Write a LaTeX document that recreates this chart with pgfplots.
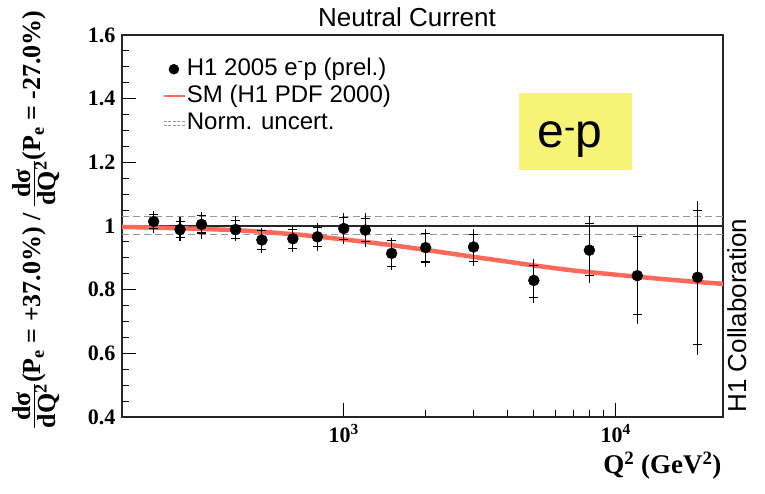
\documentclass[border=0pt]{standalone}
\usepackage{pgfplots}
\pgfplotsset{compat=1.18}
\usepackage{pgfplotstable}
\usepackage{fontspec}
\setmainfont{Liberation Sans}
\newfontfamily\tnr{Liberation Serif}
\definecolor{smred}{RGB}{255,105,90}
\definecolor{boxyellow}{RGB}{246,243,118}
\definecolor{dgray}{RGB}{150,150,150}

\pgfplotstableread{
q r tup tdn sup sdn
200 1.014 0.033 0.037 0.022 0.022
250 0.989 0.040 0.036 0.025 0.025
300 1.005 0.039 0.045 0.027 0.027
400 0.989 0.043 0.036 0.027 0.027
500 0.956 0.039 0.042 0.030 0.030
650 0.960 0.040 0.042 0.030 0.030
800 0.966 0.042 0.046 0.030 0.030
1000 0.992 0.048 0.047 0.035 0.035
1200 0.987 0.053 0.053 0.036 0.036
1500 0.914 0.049 0.053 0.040 0.040
2000 0.932 0.058 0.060 0.045 0.045
3000 0.934 0.055 0.059 0.040 0.045
5000 0.829 0.066 0.071 0.047 0.053
8000 0.924 0.106 0.103 0.084 0.080
12000 0.844 0.158 0.151 0.124 0.123
20000 0.839 0.240 0.244 0.211 0.212
}\data

\pgfplotstableread{
q r
150 0.997
200 0.995
300 0.991
400 0.987
500 0.982
700 0.972
1000 0.958
1500 0.940
2000 0.925
3000 0.903
4000 0.888
5000 0.876
7000 0.860
10000 0.847
15000 0.833
20000 0.824
25000 0.818
}\sm

\newcommand\fr{\ensuremath{\dfrac{\hbox{\tnr\bfseries d\textsigma}}{\hbox{\tnr\bfseries dQ\textsuperscript{2}}}}}
\providecommand\textsigma{σ}
\providecommand\dfrac{\frac}

\begin{document}
\begin{tikzpicture}[x=1pt,y=1pt]
\useasboundingbox (0,0) rectangle (765,494);
\fill[boxyellow] (519,324) rectangle (632,401);
\node[font=\fontsize{48}{48}\selectfont, anchor=base] at (570,346) {e\textsuperscript{-}p};
\begin{axis}[
  at={(122pt,77pt)}, anchor=south west,
  scale only axis, width=601pt, height=382pt,
  xmode=log, xmin=153, xmax=24800, ymin=0.4, ymax=1.6,
  axis line style={line width=1.2pt, black!85},
  tick align=inside, xtick pos=bottom, ytick pos=left,
  major tick length=14pt, minor tick length=7pt,
  every tick/.style={black, line width=1pt},
  ytick={0.4,0.6,...,1.6}, minor y tick num=3,
  xtick={1000,10000},
  xticklabels={10\textsuperscript{3},10\textsuperscript{4}},
  /pgf/number format/assume math mode=true,
  yticklabel style={font=\tnr\bfseries\fontsize{22}{22}\selectfont, xshift=-3pt},
  xticklabel style={font=\tnr\bfseries\fontsize{22}{22}\selectfont, yshift=-4pt},
  legend style={draw=none, fill=none, at={(axis description cs:0.0677,0.945)}, anchor=north west,
     font=\fontsize{24}{26}\selectfont, inner sep=0pt, row sep=1pt,
     nodes={inner sep=1pt, text height=18pt, text depth=6pt}},
  legend cell align=left,
]
\addlegendimage{legend image code/.code={\fill[black] (10pt,0pt) circle (5pt);}}
\addlegendentry{H1 2005 e\textsuperscript{-}p (prel.)}
\addlegendimage{legend image code/.code={\draw[smred, line width=2pt] (0pt,0pt)--(21pt,0pt);}}
\addlegendentry{SM (H1 PDF 2000)}
\addlegendimage{legend image code/.code={\draw[dgray, dash pattern=on 3pt off 1.5pt, line width=0.9pt] (0pt,1.8pt)--(21pt,1.8pt); \draw[dgray, dash pattern=on 3pt off 1.5pt, line width=0.9pt] (0pt,-1.8pt)--(21pt,-1.8pt);}}
\addlegendentry{Norm. uncert.}

\addplot[dgray, dash pattern=on 7pt off 4pt, line width=1.1pt, forget plot] coordinates {(153,1.03) (24800,1.03)};
\addplot[dgray, dash pattern=on 7pt off 4pt, line width=1.1pt, forget plot] coordinates {(153,0.973) (24800,0.973)};
\addplot[black!85, line width=1.3pt, forget plot] coordinates {(153,1) (24800,1)};
\addplot[smred, line width=4.5pt, forget plot] table[x=q,y=r]{\sm};
\addplot[only marks, mark=none, forget plot, error bars/.cd, y dir=both, y explicit, error mark=none,
  error bar style={line width=1.2pt, black}] table[x=q, y=r, y error plus=tup, y error minus=tdn]{\data};
\addplot[only marks, mark=*, mark size=5.5pt, black, forget plot,
  error bars/.cd, y dir=both, y explicit, error mark=-,
  error mark options={rotate=90, line width=1.1pt, black, mark size=4.5pt},
  error bar style={line width=1.2pt, black}] table[x=q, y=r, y error plus=sup, y error minus=sdn]{\data};
\end{axis}
\node[font=\fontsize{26}{26}\selectfont, anchor=base] at (407,467) {Neutral Current};
\node[font=\tnr\bfseries\fontsize{27}{27}\selectfont, anchor=base east] at (725,20) {Q\textsuperscript{2} (GeV\textsuperscript{2})};
\node[font=\fontsize{26}{26}\selectfont, rotate=90, anchor=base west] at (746,78) {H1 Collaboration};
\node[font=\tnr\bfseries\fontsize{26}{26}\selectfont, rotate=90] at (36,274) {\fr(P\textsubscript{e} = +37.0\%) / \fr(P\textsubscript{e} = -27.0\%)};
\end{tikzpicture}
\end{document}
